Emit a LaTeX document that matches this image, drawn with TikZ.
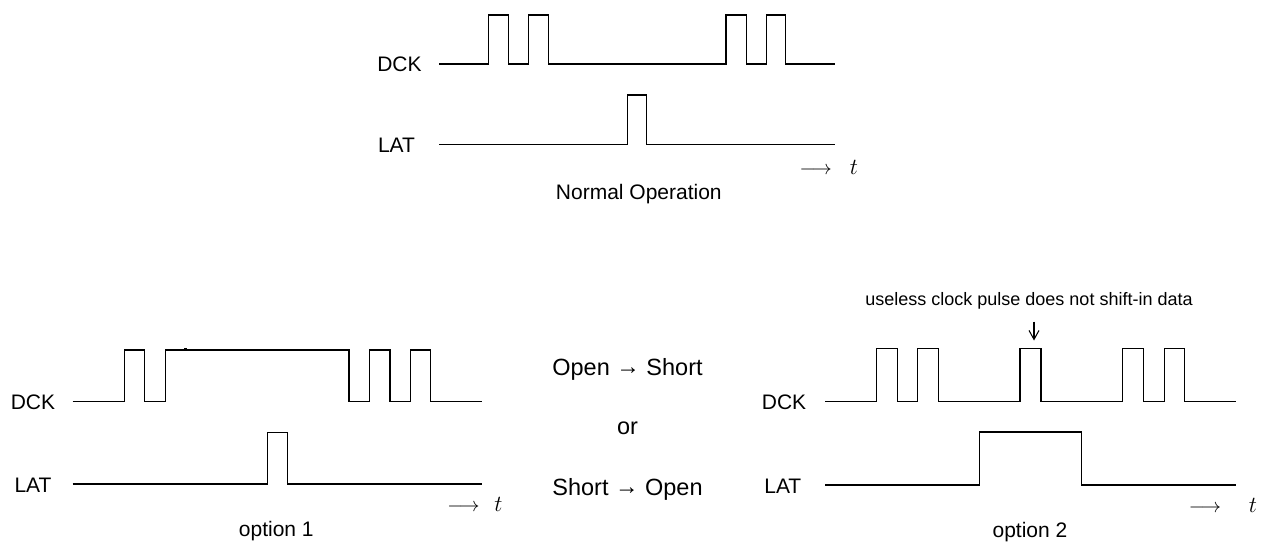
\documentclass[tikz,border=0pt]{standalone}
\usepackage{fix-cm}
\usepackage{fontspec}
\setmainfont{Liberation Sans}
\usetikzlibrary{arrows.meta}
\begin{document}
\begin{tikzpicture}[x=1pt,y=-1pt,
  wave/.style={line width=1.05pt, line join=miter},
  lbl/.style={anchor=base, inner sep=0pt, font=\fontsize{21}{25}\selectfont},
  mid/.style={anchor=base, inner sep=0pt, font=\fontsize{23.5}{28}\selectfont},
  ann/.style={anchor=base, inner sep=0pt, font=\fontsize{18}{22}\selectfont},
  tlbl/.style={anchor=base, inner sep=0pt, font=\fontsize{20}{24}\selectfont},
  tvar/.style={anchor=base, inner sep=0pt, font=\fontsize{23}{27}\selectfont},
  pointer/.style={line width=1.05pt, -{Straight Barb[length=9pt,width=10pt,line width=1.05pt]}}]
\useasboundingbox (0,0) rectangle (1269,541);

% ---------- top: normal operation ----------
\node[lbl] (dckT) at (399.5,71) {DCK};
\node[lbl] (latT) at (396.5,152) {LAT};
\draw[wave] (439.3,64) -| (488.7,15) -| (508.7,64) -| (528.3,15) -| (548.3,64)
  -| (726,15) -| (746.7,64) -| (766.7,15) -| (785.7,64) -- (835,64);
\draw[wave] (439.3,144.3) -| (627.3,95) -| (646.7,144.3) -- (835,144.3);
\node[tlbl] (arrT) at (815.8,174.5) {$\longrightarrow$};
\node[tvar] (tT) at (854,174.5) {$t$};
\node[lbl] (normal) at (638.8,199) {Normal Operation};

% ---------- bottom left: option 1 ----------
\node[lbl] (dckL) at (33,409.5) {DCK};
\node[lbl] (latL) at (33,492) {LAT};
\draw[wave] (72.7,401.7) -| (124.3,350) -| (144.7,401.7) -| (165.7,350) -| (349,401.7)
  -| (369.3,350) -| (390,401.7) -| (410.3,350) -| (430.7,401.7) -- (482,401.7);
\fill (184,348) rectangle (186.5,350);
\draw[wave] (72.7,484) -| (267.7,432.3) -| (287.7,484) -- (482,484);
\node[tlbl] (arrL) at (463.4,511) {$\longrightarrow$};
\node[tvar] (tL) at (498.5,511) {$t$};
\node[lbl] (opt1) at (276.3,536) {option 1};

% ---------- middle text ----------
\node[mid] (os) at (627.5,375) {Open \raisebox{1pt}{→} Short};
\node[mid] (orr) at (627.5,434) {or};
\node[mid] (so) at (627.5,495) {Short \raisebox{1pt}{→} Open};

% ---------- bottom right: option 2 ----------
\node[lbl] (dckR) at (784,409) {DCK};
\node[lbl] (latR) at (782.8,493) {LAT};
\draw[wave] (825.3,401.3) -| (876.7,348.3) -| (897.3,401.3) -| (917.7,348.3) -| (938.3,401.3)
  -| (1020,348.3) -| (1041,401.3) -| (1122.3,348.3) -| (1143.3,401.3)
  -| (1164.3,348.3) -| (1184.3,401.3) -- (1236,401.3);
\draw[wave] (825.3,485) -| (979.3,432) -| (1081.7,485) -- (1236,485);
\node[tlbl] (arrR) at (1205,512) {$\longrightarrow$};
\node[tvar] (tR) at (1253,512) {$t$};
\node[lbl] (opt2) at (1030,537) {option 2};

\node[ann] (ann) at (1029,305) {useless clock pulse does not shift-in data};
\coordinate (annfoot) at (1034,321.7);
\coordinate (pulsetop) at (1034,340.5);
\draw[pointer] (annfoot) -- (pulsetop);
\end{tikzpicture}
\end{document}
